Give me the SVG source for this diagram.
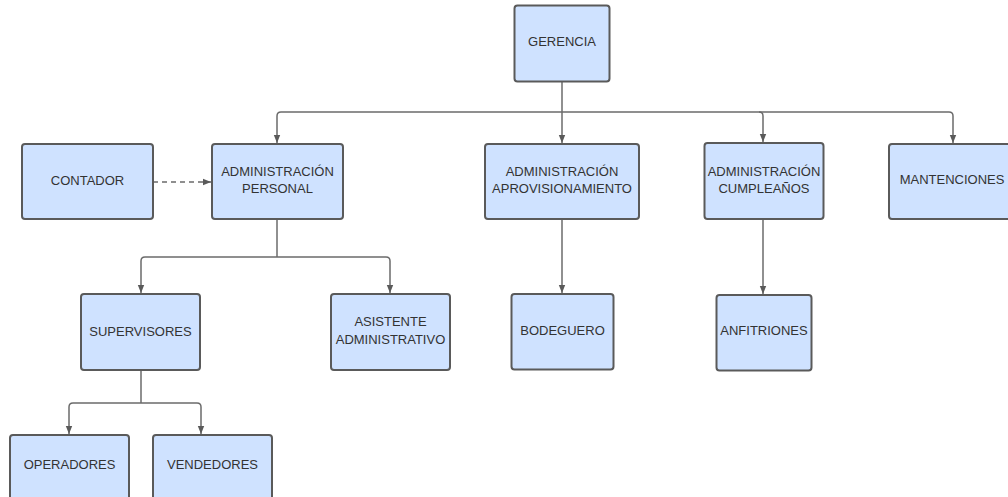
<svg xmlns="http://www.w3.org/2000/svg" width="1008" height="497" viewBox="0 0 1008 497">
<style>
.box{fill:#cfe2ff;stroke:#5a5a5a;stroke-width:2}
.t{font-family:"Liberation Sans",Arial,sans-serif;font-size:13px;fill:#333;text-anchor:middle}
.c{fill:none;stroke:#6b6b6b;stroke-width:1.5}
.d{fill:none;stroke:#6b6b6b;stroke-width:1.5;stroke-dasharray:5,4}
</style>
<defs>
<marker id="ah" viewBox="0 0 10 10" refX="10" refY="5" markerWidth="8" markerHeight="8" markerUnits="userSpaceOnUse" orient="auto">
<path d="M0,1 L10,5 L0,9 Z" fill="#5a5a5a"/>
</marker>
</defs>
<rect width="1008" height="497" fill="#fff"/>
<g id="connectors">
<path class="c" d="M562,82 V112"/>
<path class="c" d="M562,112 H281 Q277,112 277,116 V143" marker-end="url(#ah)"/>
<path class="c" d="M562,112 V143" marker-end="url(#ah)"/>
<path class="c" d="M562,112 H759 Q763,112 763,116 V142" marker-end="url(#ah)"/>
<path class="c" d="M759,112 H949 Q953,112 953,116 V143" marker-end="url(#ah)"/>
<path class="d" d="M153,182 H211" marker-end="url(#ah)"/>
<path class="c" d="M277,219 V257"/>
<path class="c" d="M277,257 H145 Q141,257 141,261 V293" marker-end="url(#ah)"/>
<path class="c" d="M277,257 H386 Q390,257 390,261 V293" marker-end="url(#ah)"/>
<path class="c" d="M562,219 V293" marker-end="url(#ah)"/>
<path class="c" d="M763,219 V294" marker-end="url(#ah)"/>
<path class="c" d="M141,370 V403"/>
<path class="c" d="M141,403 H73 Q69,403 69,407 V434" marker-end="url(#ah)"/>
<path class="c" d="M141,403 H197 Q201,403 201,407 V434" marker-end="url(#ah)"/>
</g>
<g id="gerencia"><rect class="box" x="514.5" y="5.5" width="95" height="76" rx="3"/><text class="t" x="562" y="46">GERENCIA</text></g>
<g id="contador"><rect class="box" x="22" y="144" width="131" height="75" rx="3"/><text class="t" x="87.5" y="185">CONTADOR</text></g>
<g id="adm-personal"><rect class="box" x="212" y="144" width="131" height="75" rx="3"/><text class="t" x="277.5" y="175.5">ADMINISTRACIÓN</text><text class="t" x="277.5" y="192.5">PERSONAL</text></g>
<g id="adm-aprov"><rect class="box" x="485" y="144" width="154" height="75" rx="3"/><text class="t" x="562" y="175.5">ADMINISTRACIÓN</text><text class="t" x="562" y="192.5">APROVISIONAMIENTO</text></g>
<g id="adm-cumple"><rect class="box" x="704.5" y="143" width="119" height="76" rx="3"/><text class="t" x="764" y="175.5">ADMINISTRACIÓN</text><text class="t" x="764" y="192.5">CUMPLEAÑOS</text></g>
<g id="mantenciones"><rect class="box" x="889" y="144" width="130" height="75" rx="3"/><text class="t" x="952" y="183.5">MANTENCIONES</text></g>
<g id="supervisores"><rect class="box" x="81" y="294" width="119" height="76" rx="3"/><text class="t" x="140.5" y="335.5">SUPERVISORES</text></g>
<g id="asistente"><rect class="box" x="331" y="294" width="119" height="76" rx="3"/><text class="t" x="390.5" y="326">ASISTENTE</text><text class="t" x="390.5" y="343.5">ADMINISTRATIVO</text></g>
<g id="bodeguero"><rect class="box" x="511.5" y="294" width="102" height="75.5" rx="3"/><text class="t" x="562.5" y="334.5">BODEGUERO</text></g>
<g id="anfitriones"><rect class="box" x="716.5" y="295" width="95" height="75.5" rx="3"/><text class="t" x="764" y="335">ANFITRIONES</text></g>
<g id="operadores"><rect class="box" x="10" y="435" width="119" height="76" rx="3"/><text class="t" x="69.5" y="468.5">OPERADORES</text></g>
<g id="vendedores"><rect class="box" x="153" y="435" width="119" height="76" rx="3"/><text class="t" x="212.5" y="468.5">VENDEDORES</text></g>
</svg>
